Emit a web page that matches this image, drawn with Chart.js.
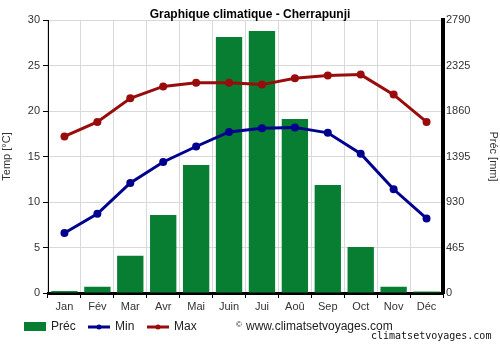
<!DOCTYPE html>
<html>
<head>
<meta charset="utf-8">
<script src="https://cdn.jsdelivr.net/npm/chart.js@4/dist/chart.umd.min.js"></script>
<style>
  body { margin: 0; background: #fff; }
  #wrap { position: relative; width: 500px; height: 350px; }
</style>
</head>
<body>
<div id="wrap"><canvas id="chart" width="500" height="350"></canvas></div>
<script>
const months = ["Jan", "Fév", "Mar", "Avr", "Mai", "Juin", "Jui", "Aoû", "Sep", "Oct", "Nov", "Déc"];
const precip = [20, 64, 381, 797, 1308, 2616, 2678, 1778, 1104, 470, 64, 15];
const tMin = [6.6, 8.7, 12.1, 14.4, 16.1, 17.7, 18.1, 18.2, 17.6, 15.3, 11.4, 8.2];
const tMax = [17.2, 18.8, 21.4, 22.7, 23.1, 23.1, 22.9, 23.6, 23.9, 24.0, 21.8, 18.8];

const GREEN = "#077e32";
const BLUE = "#00008f";
const RED = "#990c0c";
const FONT = "'Liberation Sans', Arial, sans-serif";

// titre, legende et textes du bas
const extras = {
    id: 'extras',
    afterDraw(chart) {
        const ctx = chart.ctx;
        ctx.save();
        ctx.fillStyle = '#000';
        ctx.font = 'bold 12px ' + FONT;
        ctx.textAlign = 'center';
        ctx.textBaseline = 'alphabetic';
        ctx.fillText('Graphique climatique - Cherrapunji', 250, 18);

        ctx.font = '12px ' + FONT;
        ctx.textAlign = 'left';
        ctx.textBaseline = 'middle';
        ctx.fillStyle = GREEN;
        ctx.fillRect(24, 322, 22, 9);
        ctx.fillStyle = '#222';
        ctx.fillText('Préc', 51, 327);

        [[88, BLUE, 'Min'], [147, RED, 'Max']].forEach(([x, c, t]) => {
            ctx.strokeStyle = c;
            ctx.lineWidth = 3;
            ctx.beginPath();
            ctx.moveTo(x, 327);
            ctx.lineTo(x + 22, 327);
            ctx.stroke();
            ctx.fillStyle = c;
            ctx.beginPath();
            ctx.arc(x + 11, 327, 2.5, 0, Math.PI * 2);
            ctx.fill();
            ctx.fillStyle = '#222';
            ctx.fillText(t, x + 27, 327);
        });

        ctx.font = '8px ' + FONT;
        ctx.fillText('©', 236, 325);
        ctx.font = '12px ' + FONT;
        ctx.fillText('www.climatsetvoyages.com', 246, 327);

        ctx.font = '10px "DejaVu Sans Mono", monospace';
        ctx.fillStyle = '#111';
        ctx.fillText('climatsetvoyages.com', 371, 336);
        ctx.restore();
    }
};

new Chart(document.getElementById('chart'), {
    data: {
        labels: months,
        datasets: [
            {
                type: 'line',
                label: 'Max',
                data: tMax,
                yAxisID: 'y',
                borderColor: RED,
                backgroundColor: RED,
                borderWidth: 3,
                pointRadius: 4,
                pointBackgroundColor: RED,
                pointBorderWidth: 0,
                tension: 0,
                order: 1
            },
            {
                type: 'line',
                label: 'Min',
                data: tMin,
                yAxisID: 'y',
                borderColor: BLUE,
                backgroundColor: BLUE,
                borderWidth: 3,
                pointRadius: 4,
                pointBackgroundColor: BLUE,
                pointBorderWidth: 0,
                tension: 0,
                order: 2
            },
            {
                type: 'bar',
                label: 'Préc',
                data: precip,
                yAxisID: 'y1',
                backgroundColor: GREEN,
                categoryPercentage: 0.8,
                barPercentage: 1.0,
                order: 3
            }
        ]
    },
    options: {
        responsive: false,
        animation: false,
        layout: { padding: { top: 20, left: 0, right: 0, bottom: 0 } },
        plugins: {
            legend: { display: false },
            title: { display: false },
            tooltip: { enabled: false }
        },
        scales: {
            x: {
                offset: true,
                grid: { color: '#d9d9d9', offset: true, tickLength: 5, tickColor: '#000' },
                border: { color: '#000', width: 3 },
                ticks: { color: '#333', font: { family: FONT, size: 11 }, padding: 2, maxRotation: 0 },
                afterFit: s => { s.height = 57; }
            },
            y: {
                position: 'left',
                min: 0,
                max: 30,
                ticks: { stepSize: 5, color: '#333', font: { family: FONT, size: 11 }, padding: 3 },
                grid: { color: '#d9d9d9', tickLength: 5, tickColor: '#000' },
                border: { color: '#000', width: 1 },
                title: { display: true, text: 'Temp [°C]', color: '#333', font: { family: FONT, size: 11 }, padding: 0 },
                afterFit: s => { s.width = 48; }
            },
            y1: {
                position: 'right',
                min: 0,
                max: 2790,
                ticks: { stepSize: 465, color: '#333', font: { family: FONT, size: 11 }, padding: 2, callback: v => String(v) },
                grid: { drawOnChartArea: false, tickLength: 1, tickColor: '#000' },
                border: { color: '#000', width: 4 },
                title: { display: true, text: 'Préc [mm]', color: '#333', font: { family: FONT, size: 11 }, padding: { top: 0, bottom: 4 } },
                afterFit: s => { s.width = 57; }
            }
        }
    },
    plugins: [extras]
});
</script>
</body>
</html>
